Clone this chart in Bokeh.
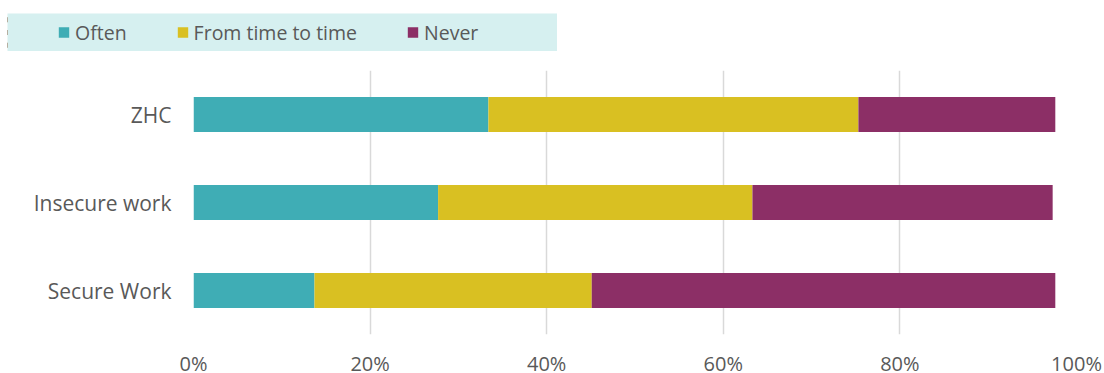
from bokeh.plotting import figure
from bokeh.models import Range1d, FactorRange, Legend, LegendItem, NumeralTickFormatter, FixedTicker, ColumnDataSource
from bokeh.layouts import column, row
from bokeh.embed import file_html
from bokeh.resources import INLINE

categories = ["Secure Work", "Insecure work", "ZHC"]
series = ["Often", "From time to time", "Never"]
often = [0.137, 0.277, 0.334]
from_time_to_time = [0.314, 0.356, 0.419]
never = [0.525, 0.340, 0.223]
x_ticks = [0, 0.2, 0.4, 0.6, 0.8, 1.0]

colors = ["#3FADB5", "#D9C022", "#8C2F66"]
text_color = "#595959"
FONT = "Open Sans"

source = ColumnDataSource({"cat": categories, "Often": often,
                           "From time to time": from_time_to_time, "Never": never})

# main chart
p = figure(y_range=FactorRange(factors=categories), x_range=Range1d(0, 1),
           frame_width=883, frame_height=264,
           min_border_left=193, min_border_right=28, min_border_top=19, min_border_bottom=20,
           output_backend="svg", toolbar_location=None)
p.hbar_stack(series, y="cat", height=0.4, color=colors, source=source, line_width=0)

p.outline_line_color = None
p.ygrid.grid_line_color = None
p.xgrid.grid_line_color = "#D9D9D9"
p.xgrid.grid_line_width = 1.5
p.xaxis.ticker = FixedTicker(ticks=x_ticks)
p.xaxis.formatter = NumeralTickFormatter(format="0%")
for ax in (p.xaxis[0], p.yaxis[0]):
    ax.axis_line_color = None
    ax.major_tick_line_color = None
    ax.minor_tick_line_color = None
    ax.major_label_text_color = text_color
    ax.major_label_text_font = FONT
p.xaxis.major_label_text_font_size = "20px"
p.yaxis.major_label_text_font_size = "21px"
p.xaxis.major_label_standoff = 9
p.yaxis.major_label_standoff = 16

# legend strip (its own small plot; the bars there are kept outside its view)
lg = figure(width=550, height=38, x_range=Range1d(5, 6), y_range=FactorRange(factors=categories),
            output_backend="svg", toolbar_location=None, min_border=0,
            x_axis_location=None, y_axis_location=None,
            background_fill_color="#D6F0F0", border_fill_color="#D6F0F0")
lg.margin = (13, 0, 0, 7)
lg.grid.visible = False
lg.outline_line_color = None
items = []
for name, c in zip(series, colors):
    r = lg.hbar(y="cat", right=name, height=0.4, color=c, source=source, line_width=0)
    items.append(LegendItem(label=name, renderers=[r]))
legend = Legend(items=items, orientation="horizontal", location="left", margin=50, padding=0,
                spacing=49, label_standoff=5, glyph_width=13, glyph_height=13, label_height=26,
                label_text_font=FONT, label_text_font_size="19.5px", label_text_color=text_color,
                background_fill_alpha=0, border_line_color=None)
lg.add_layout(legend, "center")

layout = column(row(lg), p, spacing=0)
open("out.html", "w").write(file_html(layout, INLINE))
